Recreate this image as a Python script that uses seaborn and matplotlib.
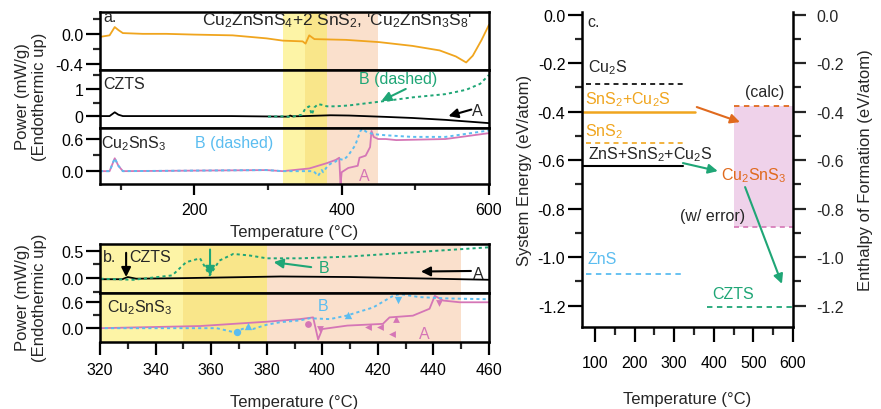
import matplotlib
matplotlib.use("Agg")
import matplotlib.pyplot as plt
from matplotlib.ticker import MultipleLocator, FixedLocator
import seaborn as sns

# ---------------- data ----------------
# panel a (top): Cu2ZnSnS4 + 2 SnS2
T_mix = [72, 85, 92, 97, 103, 130, 162, 200, 252, 298, 320, 347, 351, 356, 363, 406, 451, 496, 533, 555, 569, 578, 590, 600]
P_mix = [-0.04, -0.02, 0.09, 0.05, 0.01, 0.0, 0.0, -0.01, -0.02, -0.06, -0.09, -0.10, -0.13, -0.02, -0.07, -0.08, -0.11, -0.16, -0.22, -0.30, -0.38, -0.29, -0.08, 0.12]

# CZTS, run A (solid) and run B (dashed)
T_czts_A = [72, 85, 92, 97, 103, 150, 250, 320, 328, 330, 333, 350, 385, 410, 430, 460, 496, 541, 600]
P_czts_A = [0.0, 0.0, 0.14, 0.05, 0.0, 0.0, 0.0, -0.02, -0.02, 0.02, -0.01, 0.0, 0.03, 0.02, 0.0, -0.03, -0.07, -0.14, -0.26]
T_czts_B = [300, 320, 332, 346, 351, 356, 359.5, 363, 368, 374, 380, 392, 409, 433, 460, 496, 541, 569, 588, 600]
P_czts_B = [-0.02, -0.01, -0.03, 0.05, 0.29, 0.36, 0.05, 0.32, 0.44, 0.41, 0.36, 0.36, 0.39, 0.47, 0.56, 0.69, 0.81, 0.97, 1.19, 1.52]

# Cu2SnS3, run A (solid) and run B (dashed)
T_cts_A = [72, 85, 92, 97, 103, 200, 298, 320, 356, 380, 392, 396.7, 398.5, 400, 409, 421.8, 424.2, 432.6, 438.6, 440.5, 443.5, 449.5, 460, 474, 541, 600]
P_cts_A = [0.0, 0.0, 0.24, 0.10, 0.0, 0.01, 0.02, 0.0, 0.05, 0.15, 0.21, 0.25, -0.26, -0.02, 0.06, 0.10, 0.25, 0.29, 0.45, 0.75, 0.64, 0.60, 0.60, 0.58, 0.60, 0.71]
T_cts_B = [72, 85, 92, 97, 103, 200, 298, 320, 362, 368, 373, 375, 380, 385, 392, 395.5, 402.7, 408.7, 418.3, 425.5, 428, 435, 444.6, 460, 496, 541, 600]
P_cts_B = [0.0, 0.0, 0.24, 0.10, 0.0, 0.01, 0.02, 0.0, 0.0, -0.09, 0.02, -0.02, 0.08, 0.14, 0.18, 0.23, 0.21, 0.29, 0.48, 0.75, 0.79, 0.72, 0.69, 0.67, 0.64, 0.64, 0.76]

# small event markers in panel b (Cu2SnS3)
mk_B_T = [369.2, 373.4, 409.3, 427.3]
mk_B_P = [-0.09, 0.04, 0.31, 0.66]
mk_B_m = ["o", "^", "^", "v"]
mk_A_T = [395.0, 399.2, 416.5, 420.7, 425.0, 426.7, 442.0]
mk_A_P = [0.10, -0.02, 0.02, 0.02, -0.13, 0.22, 0.58]
mk_A_m = ["o", "v", "<", "<", "<", "^", "v"]

# shaded temperature windows
span_light = (320, 350)
span_mid = (350, 380)
span_peach = (380, 450)

# panel c: energies (eV/atom)
c_names = ["Cu$_2$S", "SnS$_2$+Cu$_2$S", "SnS$_2$", "ZnS+SnS$_2$+Cu$_2$S", "ZnS", "CZTS"]
c_energy = [-0.285, -0.40, -0.53, -0.625, -1.07, -1.205]
c_xstart = [77, 67, 77, 67, 77, 383]
c_xend = [322, 352, 322, 322, 322, 600]
cts_calc = -0.375
cts_low = -0.875
cts_T = (450, 600)

# ---------------- style ----------------
sns.set_theme(style="ticks")
plt.rcParams["font.family"] = ["Liberation Sans", "DejaVu Sans"]
plt.rcParams["mathtext.default"] = "regular"
plt.rcParams["axes.linewidth"] = 1.6
FS = 11.5

ORANGE = "#f0a51e"
GREEN = "#1fa676"
BLUE = "#5bbdf0"
PINK = "#d576b6"
RED = "#e06a1e"
C_LIGHT = "#fdf4a6"
C_MID = "#f9e68a"
C_PEACH = "#fae0cc"

fig = plt.figure(figsize=(8.81, 4.10), dpi=100)
W, H = 881.0, 410.0


def axpx(l, t, r, b):
    return fig.add_axes([l / W, 1 - b / H, (r - l) / W, (b - t) / H])


def style_ax(ax, bottom_labels=True, xlen=8, xpad=4):
    ax.tick_params(axis="y", which="major", direction="out", length=10, width=1.6,
                   labelsize=FS, colors="black", pad=2)
    ax.tick_params(axis="y", which="minor", direction="out", length=5, width=1.6)
    ax.tick_params(axis="x", which="major", direction="out", length=xlen, width=1.6,
                   labelsize=FS, colors="black", pad=xpad)
    ax.tick_params(axis="x", which="minor", direction="out", length=xlen * 0.55, width=1.6)
    ax.tick_params(axis="x", which="both", bottom=bottom_labels, labelbottom=bottom_labels)
    for s in ax.spines.values():
        s.set_linewidth(1.8)
        s.set_color("black")
    ax.set_xlabel("")
    ax.set_ylabel("")


def shade(ax):
    ax.axvspan(*span_light, color=C_LIGHT, lw=0, zorder=0)
    ax.axvspan(*span_mid, color=C_MID, lw=0, zorder=0)
    ax.axvspan(*span_peach, color=C_PEACH, lw=0, zorder=0)


def line(ax, x, y, color, ls="-", lw=1.3):
    sns.lineplot(x=x, y=y, ax=ax, color=color, sort=False, estimator=None,
                 linewidth=lw, linestyle=ls, legend=False)


DOT = (0, (1.6, 1.6))
arrow = lambda c: dict(arrowstyle="-|>", color=c, lw=1.5, mutation_scale=14, shrinkA=0, shrinkB=0)

# ---------------- panel a ----------------
a1 = axpx(100, 13, 489, 71)
a2 = axpx(100, 71, 489, 129)
a3 = axpx(100, 129, 489, 185)
for ax in (a1, a2, a3):
    shade(ax)
    ax.set_xlim(72, 600)

line(a1, T_mix, P_mix, ORANGE)
a1.set_ylim(-0.48, 0.29)
a1.yaxis.set_major_locator(FixedLocator([0.0, -0.4]))
a1.yaxis.set_minor_locator(FixedLocator([0.2, -0.2]))
a1.set_yticklabels(["0.0", "-0.4"])
style_ax(a1, bottom_labels=False)
a1.text(76, 0.17, "a.", fontsize=FS)
a1.text(393, 0.19, "Cu$_2$ZnSnS$_4$+2 SnS$_2$, 'Cu$_2$ZnSn$_3$S$_8$'", fontsize=12.5, ha="center", va="center")

line(a2, T_czts_A, P_czts_A, "black")
line(a2, T_czts_B, P_czts_B, GREEN, ls=DOT, lw=1.4)
a2.set_ylim(-0.44, 1.7)
a2.yaxis.set_major_locator(FixedLocator([0, 1]))
a2.yaxis.set_minor_locator(FixedLocator([0.5, 1.5]))
a2.set_yticklabels(["0", "1"])
style_ax(a2, bottom_labels=False)
a2.text(76, 1.2, "CZTS", fontsize=FS, va="center")
a2.text(477, 1.37, "B (dashed)", fontsize=FS, color=GREEN, ha="center", va="center")
a2.annotate("", xy=(454, 0.56), xytext=(487, 1.0), arrowprops=arrow(GREEN))
a2.text(584, 0.2, "A", fontsize=FS, ha="center", va="center")
a2.annotate("", xy=(545, 0.0), xytext=(576, 0.24), arrowprops=arrow("black"))

line(a3, T_cts_A, P_cts_A, PINK)
line(a3, T_cts_B, P_cts_B, BLUE, ls=DOT, lw=1.4)
a3.set_ylim(-0.24, 0.806)
a3.yaxis.set_major_locator(FixedLocator([0.0, 0.6]))
a3.yaxis.set_minor_locator(FixedLocator([0.3]))
a3.set_yticklabels(["0.0", "0.6"])
a3.xaxis.set_major_locator(FixedLocator([200, 400, 600]))
a3.xaxis.set_minor_locator(FixedLocator([100, 300, 500]))
style_ax(a3, xlen=8, xpad=5)
a3.text(73, 0.54, "Cu$_2$SnS$_3$", fontsize=FS, va="center")
a3.text(254, 0.54, "B (dashed)", fontsize=FS, color=BLUE, ha="center", va="center")
a3.text(431, -0.09, "A", fontsize=FS, color=PINK, ha="center", va="center")

fig.text(294.5 / W, 1 - 233 / H, "Temperature (°C)", fontsize=12, ha="center", va="center")
fig.text(31 / W, 1 - 97 / H, "Power (mW/g)\n(Endothermic up)", fontsize=12, rotation=90,
         ha="center", va="center", linespacing=1.15)

# ---------------- panel b ----------------
b1 = axpx(100, 245, 489, 294)
b2 = axpx(100, 294, 489, 343)
for ax in (b1, b2):
    shade(ax)
    ax.set_xlim(320, 460)

line(b1, T_czts_A, P_czts_A, "black")
line(b1, T_czts_B, P_czts_B, GREEN, ls=DOT, lw=1.4)
b1.set_ylim(-0.27, 0.62)
b1.yaxis.set_major_locator(FixedLocator([0.0, 0.5]))
b1.yaxis.set_minor_locator(FixedLocator([0.25, -0.25]))
b1.set_yticklabels(["0.0", "0.5"])
style_ax(b1, bottom_labels=False)
b1.text(321, 0.39, "b.", fontsize=FS, va="center")
b1.text(330.5, 0.39, "CZTS", fontsize=FS, va="center")
b1.annotate("", xy=(329.4, 0.02), xytext=(329.4, 0.46), arrowprops=arrow("black"))
b1.annotate("", xy=(359.6, 0.04), xytext=(359.6, 0.52), arrowprops=arrow(GREEN))
b1.text(400.8, 0.2, "B", fontsize=FS, color=GREEN, ha="center", va="center")
b1.annotate("", xy=(382.5, 0.29), xytext=(396, 0.2), arrowprops=arrow(GREEN))
b1.text(456, 0.08, "A", fontsize=FS, ha="center", va="center")
b1.annotate("", xy=(435.5, 0.12), xytext=(453.5, 0.13), arrowprops=arrow("black"))

line(b2, T_cts_A, P_cts_A, PINK)
line(b2, T_cts_B, P_cts_B, BLUE, ls=DOT, lw=1.4)
for t, p, m in zip(mk_B_T, mk_B_P, mk_B_m):
    sns.scatterplot(x=[t], y=[p], ax=b2, color=BLUE, marker=m, s=28, linewidth=0, legend=False, zorder=5)
for t, p, m in zip(mk_A_T, mk_A_P, mk_A_m):
    sns.scatterplot(x=[t], y=[p], ax=b2, color=PINK, marker=m, s=24, linewidth=0, legend=False, zorder=5)
b2.set_ylim(-0.32, 0.815)
b2.yaxis.set_major_locator(FixedLocator([0.0, 0.6]))
b2.yaxis.set_minor_locator(FixedLocator([0.3]))
b2.set_yticklabels(["0.0", "0.6"])
b2.xaxis.set_major_locator(MultipleLocator(20))
b2.xaxis.set_minor_locator(MultipleLocator(10))
style_ax(b2, xlen=9.5, xpad=5)
b2.text(322.5, 0.49, "Cu$_2$SnS$_3$", fontsize=FS, va="center")
b2.text(400.4, 0.52, "B", fontsize=FS, color=BLUE, ha="center", va="center")
b2.text(436.6, -0.13, "A", fontsize=FS, color=PINK, ha="center", va="center")

fig.text(294.5 / W, 1 - 395 / H, "Temperature (°C)", fontsize=12, ha="center", va="top")
fig.text(31 / W, 1 - 298 / H, "Power (mW/g)\n(Endothermic up)", fontsize=12, rotation=90,
         ha="center", va="center", linespacing=1.15)

# ---------------- panel c ----------------
c = axpx(582, 13, 793, 328)
c.set_xlim(67, 600)
c.set_ylim(-1.288, 0.011)
c.axvspan(cts_T[0], cts_T[1], ymin=(cts_low + 1.288) / 1.299, ymax=(cts_calc + 1.288) / 1.299,
          color="#efd2ea", lw=0, zorder=0)
c_colors = ["black", ORANGE, ORANGE, "black", BLUE, GREEN]
c_styles = [(0, (3, 2.5)), "-", (0, (3, 2.5)), "-", (0, (3, 2.5)), (0, (3, 2.5))]
c_widths = [1.2, 1.8, 1.2, 1.5, 1.3, 1.3]
for e, x0, x1, col, ls, lw in zip(c_energy, c_xstart, c_xend, c_colors, c_styles, c_widths):
    line(c, [x0, x1], [e, e], col, ls=ls, lw=lw)
line(c, list(cts_T), [cts_calc, cts_calc], RED, ls=(0, (3, 2.5)), lw=1.3)
line(c, list(cts_T), [cts_low, cts_low], PINK, ls=(0, (3, 2.5)), lw=1.2)

fmt = matplotlib.ticker.FuncFormatter(lambda v, p: f"{v:.1f}".replace("-0.0", "0.0"))
c.xaxis.set_major_locator(MultipleLocator(100))
c.xaxis.set_minor_locator(FixedLocator([150, 250, 350, 450, 550]))
c.yaxis.set_major_locator(MultipleLocator(0.2))
c.yaxis.set_minor_locator(MultipleLocator(0.1))
c.yaxis.set_major_formatter(fmt)
style_ax(c, xlen=11, xpad=9)
c.spines["top"].set_visible(False)
c.spines["right"].set_visible(False)
c.set_xlabel("Temperature (°C)", fontsize=12, labelpad=15)
c.set_ylabel("System Energy (eV/atom)", fontsize=12, labelpad=4)

c2 = c.twinx()
c2.set_ylim(c.get_ylim())
c2.yaxis.set_major_locator(MultipleLocator(0.2))
c2.yaxis.set_minor_locator(MultipleLocator(0.1))
c2.yaxis.set_major_formatter(fmt)
c2.tick_params(axis="y", which="major", direction="out", length=9, width=1.6, labelsize=FS, pad=8)
c2.tick_params(axis="y", which="minor", direction="out", length=5.5, width=1.6)
for k, s in c2.spines.items():
    s.set_visible(k == "right")
    s.set_linewidth(1.8)
    s.set_color("black")
c2.set_ylabel("Enthalpy of Formation (eV/atom)", fontsize=12, labelpad=10)

c.text(80, -0.03, "c.", fontsize=FS, va="center")
c.text(82, -0.215, c_names[0], fontsize=FS, va="center")
c.text(75, -0.345, c_names[1], fontsize=FS, va="center", color=ORANGE)
c.text(75, -0.48, c_names[2], fontsize=FS, va="center", color=ORANGE)
c.text(82, -0.575, c_names[3], fontsize=FS, va="center")
c.text(80, -1.005, c_names[4], fontsize=FS, va="center", color=BLUE)
c.text(448, -1.148, c_names[5], fontsize=FS, va="center", ha="center", color=GREEN)
c.text(529, -0.315, "(calc)", fontsize=FS, va="center", ha="center")
c.text(501, -0.66, "Cu$_2$SnS$_3$", fontsize=FS, va="center", ha="center", color=RED)
c.text(398, -0.83, "(w/ error)", fontsize=FS, va="center", ha="center")
c.annotate("", xy=(466, -0.443), xytext=(357, -0.381), arrowprops=arrow(RED))
c.annotate("", xy=(410, -0.645), xytext=(322, -0.612), arrowprops=arrow(GREEN))
c.annotate("", xy=(572, -1.11), xytext=(479, -0.711), arrowprops=arrow(GREEN))

fig.savefig("out.png", dpi=100)
